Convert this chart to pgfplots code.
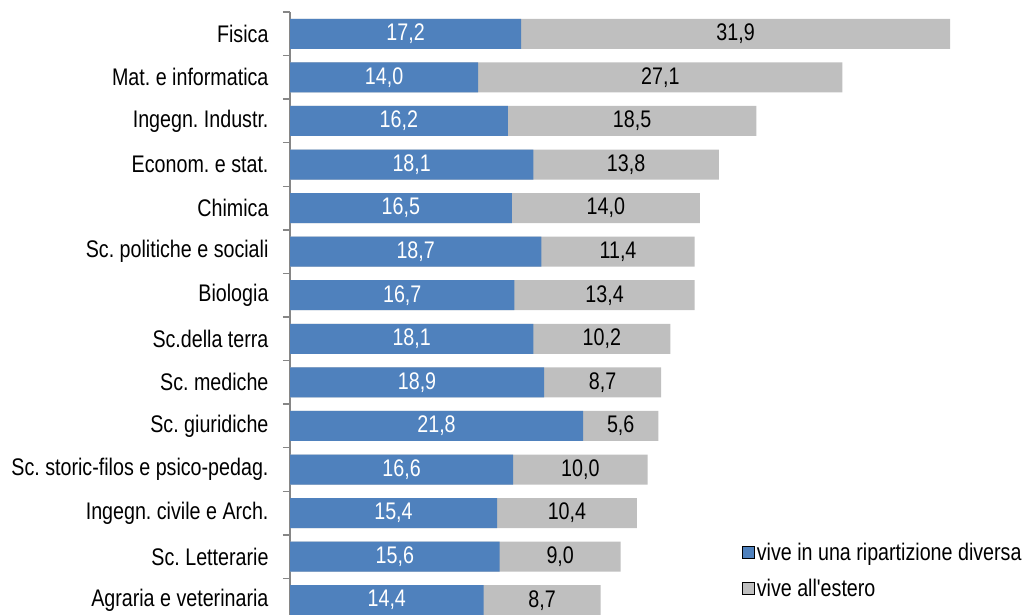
\documentclass[border=0pt]{standalone}
\usepackage{fontspec}
\setmainfont{Liberation Sans}[FakeStretch=0.82, Ligatures=TeXOff]
\usepackage{pgfplots}
\usepackage{pgfplotstable}
\pgfplotsset{compat=1.18}
\definecolor{barblue}{HTML}{4F81BD}
\definecolor{bargray}{HTML}{BFBFBF}
\definecolor{axgray}{HTML}{868686}
\newcommand{\cf}{\fontsize{24}{28}\selectfont}
\pgfplotstableread{
y a b
0 17.2 31.9
1 14.0 27.1
2 16.2 18.5
3 18.1 13.8
4 16.5 14.0
5 18.7 11.4
6 16.7 13.4
7 18.1 10.2
8 18.9 8.7
9 21.8 5.6
10 16.6 10.0
11 15.4 10.4
12 15.6 9.0
13 14.4 8.7
}\data
\begin{document}
\frenchspacing
\begin{tikzpicture}
\useasboundingbox (0,0) rectangle (1030pt,-615pt);
\begin{axis}[
  at={(290pt,-12pt)}, anchor=north west,
  scale only axis, width=699pt, height=610pt,
  xmin=0, xmax=52, ymin=-0.5, ymax=13.5, y dir=reverse,
  axis x line=none, axis y line*=left,
  y axis line style={axgray, line width=1.4pt},
  ytick={0,...,13},
  yticklabels={Fisica,Mat. e informatica,Ingegn. Industr.,Econom. e stat.,Chimica,Sc. politiche e sociali,Biologia,Sc.della terra,Sc. mediche,Sc. giuridiche,Sc. storic-filos e psico-pedag.,Ingegn. civile e Arch.,Sc. Letterarie,Agraria e veterinaria},
  major tick length=0pt,
  yticklabel style={font=\cf, xshift=-18pt},
  extra y ticks={-0.5,0.5,1.5,2.5,3.5,4.5,5.5,6.5,7.5,8.5,9.5,10.5,11.5,12.5,13.5},
  extra y tick labels={},
  extra y tick style={major tick length=7pt, tick align=outside, tick style={axgray, line width=1.4pt}},
  xbar, bar width=30pt, bar shift=0pt,
  legend style={at={(0.647,0.133)}, anchor=north west, draw=none, fill=none,
    font=\cf, row sep=13pt, inner sep=0pt,
    /tikz/every even column/.append style={column sep=3pt}},
  legend cell align=left,
  legend image code/.code={\fill[#1] (0pt,-6pt) rectangle (12pt,6pt);},
]
\addlegendimage{fill=barblue}
\addlegendentry{vive in una ripartizione diversa}
\addlegendimage{fill=bargray}
\addlegendentry{vive all'estero}
\addplot[forget plot, draw=none, fill=bargray] table[x expr=\thisrow{a}+\thisrow{b}, y=y] {\data};
\addplot[forget plot, draw=none, fill=barblue] table[x=a, y=y] {\data};
\addplot[forget plot, only marks, mark=none, point meta=explicit,
  nodes near coords={\pgfmathprintnumber[fixed,fixed zerofill,precision=1,use comma,assume math mode=true]{\pgfplotspointmeta}},
  every node near coord/.style={anchor=center, text=white, font=\cf}]
  table[x expr=\thisrow{a}/2, y=y, meta=a] {\data};
\addplot[forget plot, only marks, mark=none, point meta=explicit,
  nodes near coords={\pgfmathprintnumber[fixed,fixed zerofill,precision=1,use comma,assume math mode=true]{\pgfplotspointmeta}},
  every node near coord/.style={anchor=center, text=black, font=\cf}]
  table[x expr=\thisrow{a}+\thisrow{b}/2, y=y, meta=b] {\data};
\end{axis}
\end{tikzpicture}
\end{document}
